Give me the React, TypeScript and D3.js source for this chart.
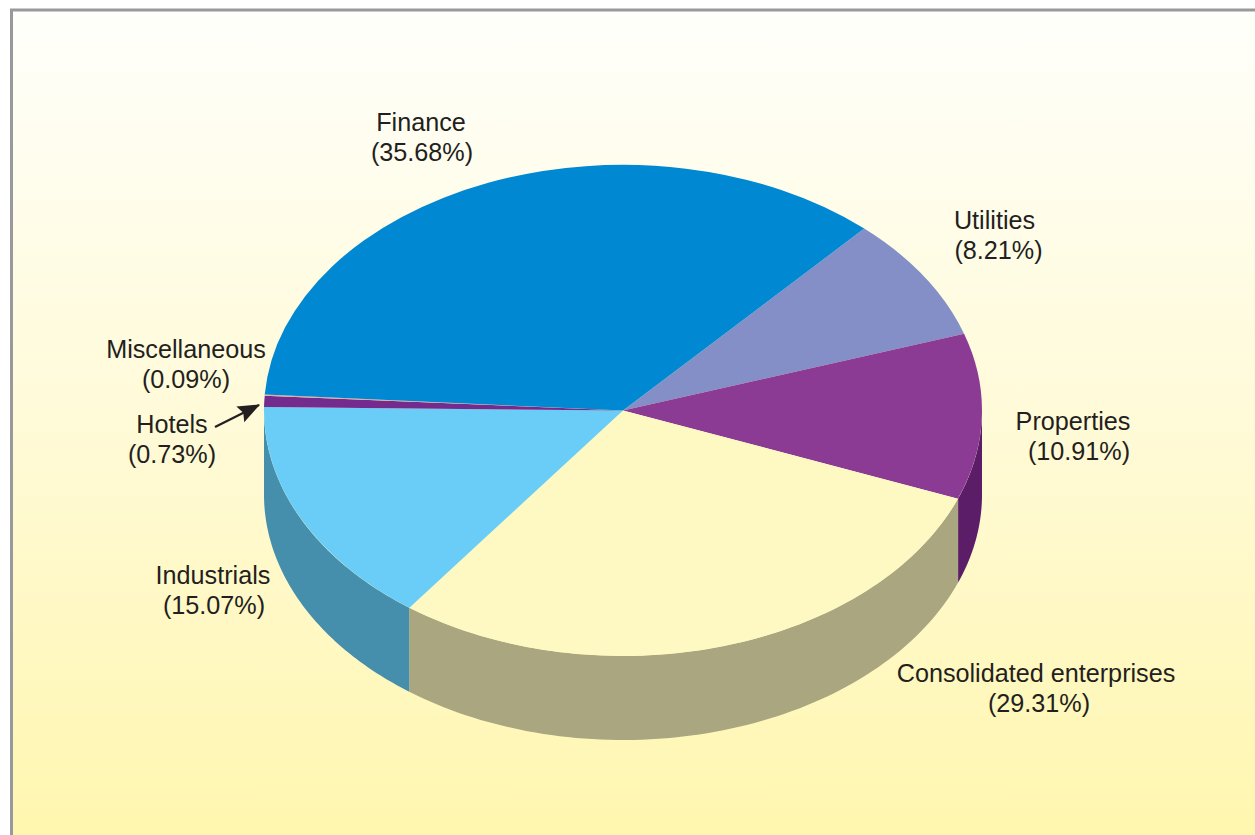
import React from "react";
import * as d3 from "d3";

const WIDTH = 1255;
const HEIGHT = 835;

const categories = ["Utilities", "Properties", "Consolidated enterprises", "Industrials", "Hotels", "Miscellaneous", "Finance"];
const shares = [8.21, 10.91, 29.31, 15.07, 0.73, 0.09, 35.68];
const topColors = ["#838fc6", "#8c3b94", "#fef9c2", "#69cdf7", "#742b8e", "#e8a8a0", "#0089d2"];
const sideColors = ["#5c648a", "#5b1c68", "#a9a680", "#458eac", "#4f1c62", "#a07570", "#005f90"];
const shareLabels = ["(8.21%)", "(10.91%)", "(29.31%)", "(15.07%)", "(0.73%)", "(0.09%)", "(35.68%)"];
const labelX = [994.5, 1073, 1036, 213, 172, 186, 421];
const shareX = [998.5, 1079, 1039, 214, 172, 186, 422];
const labelY = [229, 430, 682, 584, 433, 358, 131];

const CX = 623;
const CY = 410.5;
const RX = 359;
const RY = 245.5;
const DEPTH = 84;
const START = (42.2 * Math.PI) / 180;

const pieGen = d3
  .pie<number>()
  .sort(null)
  .startAngle(START)
  .endAngle(START + 2 * Math.PI);

const arcs = pieGen(shares);

const arcGen = d3.arc<d3.PieArcDatum<number>>().innerRadius(0).outerRadius(1);

const px = (a: number) => CX + RX * Math.sin(a);
const py = (a: number) => CY - RY * Math.cos(a);

function sidePath(a0: number, a1: number): string | null {
  // only the front half (between 90° and 270°, clockwise from top) is visible
  const lo = Math.max(a0, Math.PI / 2);
  const hi = Math.min(a1, (3 * Math.PI) / 2);
  if (hi <= lo) return null;
  const p = d3.path();
  const n = 80;
  const angle = d3.scaleLinear().domain([0, n]).range([lo, hi]);
  p.moveTo(px(lo), py(lo));
  d3.range(1, n + 1).forEach((i) => p.lineTo(px(angle(i)), py(angle(i))));
  d3.range(n, -1, -1).forEach((i) => p.lineTo(px(angle(i)), py(angle(i)) + DEPTH));
  p.closePath();
  return p.toString();
}

export default function App() {
  return (
    <svg
      width={WIDTH}
      height={HEIGHT}
      viewBox={`0 0 ${WIDTH} ${HEIGHT}`}
      style={{ position: "fixed", left: 0, top: 0, display: "block" }}
    >
      <defs>
        <linearGradient id="bg" x1="0" y1="0" x2="0" y2="1">
          <stop offset="0" stopColor="#fffffb" />
          <stop offset="0.5" stopColor="#fffad6" />
          <stop offset="1" stopColor="#fff6ac" />
        </linearGradient>
        <marker id="arrow" viewBox="0 0 10 8" refX="9.5" refY="4" markerWidth="10" markerHeight="8" markerUnits="strokeWidth" orient="auto">
          <path d="M0,0 L10,4 L0,8 L1.5,4 Z" fill="#231f20" />
        </marker>
      </defs>
      <rect width={WIDTH} height={HEIGHT} fill="#ffffff" />
      <rect x={11.5} y={10} width={WIDTH + 20} height={HEIGHT + 20} fill="url(#bg)" stroke="#97999c" strokeWidth={3} />

      {arcs.map((d, i) => {
        const s = sidePath(d.startAngle, d.endAngle);
        return s ? <path key={`side-${i}`} d={s} fill={sideColors[i]} /> : null;
      })}

      {arcs.map((d, i) => (
        <path
          key={`top-${i}`}
          d={arcGen(d) as string}
          transform={`translate(${CX},${CY}) scale(${RX},${RY})`}
          fill={topColors[i]}
        />
      ))}

      <line x1={215} y1={427} x2={259} y2={405} stroke="#231f20" strokeWidth={2.2} markerEnd="url(#arrow)" />

      {categories.map((c, i) => (
        <text
          key={c}
          y={labelY[i]}
          textAnchor="middle"
          fontFamily="'Liberation Sans', Arial, sans-serif"
          fontSize={25.2}
          fill="#231f20"
        >
          <tspan x={labelX[i]}>{c}</tspan>
          <tspan x={shareX[i]} dy={29.5}>{shareLabels[i]}</tspan>
        </text>
      ))}
    </svg>
  );
}
